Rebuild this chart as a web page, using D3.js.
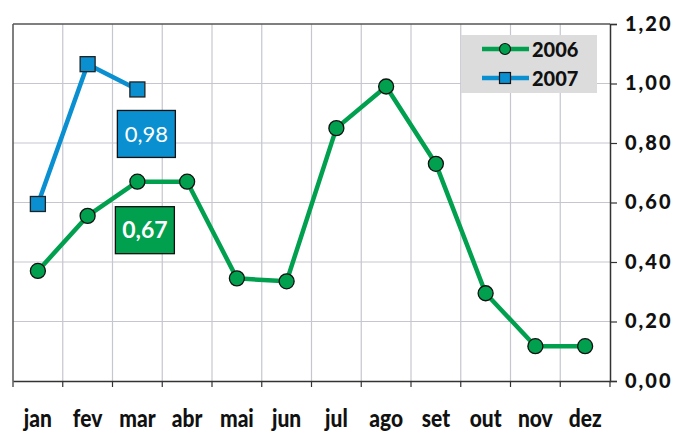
<!DOCTYPE html>
<html><head><meta charset="utf-8">
<script src="https://cdn.jsdelivr.net/npm/d3@7"></script>
<style>body{margin:0;background:#fff}svg{display:block}text{font-family:Lato,"Liberation Sans",sans-serif}</style>
</head><body><svg id="c" width="678" height="431"></svg>
<script>
const months = ["jan","fev","mar","abr","mai","jun","jul","ago","set","out","nov","dez"];
const values2006 = [0.37,0.555,0.67,0.67,0.345,0.335,0.85,0.99,0.73,0.295,0.117,0.117];
const values2007 = [0.595,1.065,0.98];
const yTicks = [0,0.2,0.4,0.6,0.8,1.0,1.2];
const seriesNames = ["2006","2007"];
const callouts = [{series:"2007",value:0.98,label:"0,98"},{series:"2006",value:0.67,label:"0,67"}];

const svg = d3.select("#c");
const L=13, R=610, T=24, B=381;
const x = d3.scaleBand().domain(months).range([L,R]);
const y = d3.scaleLinear().domain([0,1.2]).range([B,T]);
const fmt = d => d3.format(".2f")(d).replace(".",",");
const green="#00a04f", blue="#0a8fd0";

// grid
svg.append("g").selectAll("line").data(yTicks.slice(1,-1)).join("line")
 .attr("x1",L).attr("x2",R).attr("y1",d=>y(d)).attr("y2",d=>y(d)).attr("stroke","#c6c6cf").attr("stroke-width",1.2);
svg.append("g").selectAll("line").data(months.slice(1)).join("line")
 .attr("x1",d=>x(d)).attr("x2",d=>x(d)).attr("y1",T).attr("y2",B).attr("stroke","#c6c6cf").attr("stroke-width",1.2);
// border
svg.append("line").attr("x1",L).attr("x2",R).attr("y1",T).attr("y2",T).attr("stroke","#555").attr("stroke-width",1.5);
svg.append("line").attr("x1",L).attr("x2",L).attr("y1",T).attr("y2",B).attr("stroke","#555").attr("stroke-width",1.5);

// right axis
const ya = svg.append("g").attr("transform",`translate(${R},0)`)
 .call(d3.axisRight(y).tickValues(yTicks).tickFormat(fmt).tickSize(7).tickPadding(8));
ya.select(".domain").attr("stroke","#333").attr("stroke-width",1.5);
ya.selectAll(".tick line").attr("stroke","#333").attr("stroke-width",1.2);
ya.selectAll("text").attr("font-size",20).attr("font-weight",900).attr("fill","#111").attr("letter-spacing",2);

// bottom axis
const xa = svg.append("g").attr("transform",`translate(0,${B})`)
 .call(d3.axisBottom(x).tickSize(0).tickPadding(0));
xa.select(".domain").attr("stroke","#333").attr("stroke-width",1.5);
xa.selectAll("text").attr("y",46).attr("dy",0).attr("font-size",25).attr("font-weight",900).attr("fill","#111")
 .attr("transform","scale(0.84,1)");
svg.append("g").selectAll("line").data(months.concat(["end"])).join("line")
 .attr("x1",(d,i)=>L+i*x.step()).attr("x2",(d,i)=>L+i*x.step()).attr("y1",B).attr("y2",B+6).attr("stroke","#333").attr("stroke-width",1.2);

const cx = d => x(d)+x.bandwidth()/2;
const line = d3.line().x((d,i)=>cx(months[i])).y(d=>y(d));

svg.append("path").datum(values2006).attr("d",line).attr("fill","none").attr("stroke",green).attr("stroke-width",4.5).attr("stroke-linejoin","round");
svg.append("path").datum(values2007).attr("d",line).attr("fill","none").attr("stroke",blue).attr("stroke-width",4.5).attr("stroke-linejoin","round");

svg.append("g").selectAll("circle").data(values2006).join("circle")
 .attr("cx",(d,i)=>cx(months[i])).attr("cy",d=>y(d)).attr("r",7.5).attr("fill",green).attr("stroke","#111").attr("stroke-width",1.3);
svg.append("g").selectAll("rect").data(values2007).join("rect")
 .attr("x",(d,i)=>cx(months[i])-7.5).attr("y",d=>y(d)-7.5).attr("width",15).attr("height",15).attr("fill",blue).attr("stroke","#222").attr("stroke-width",1.3);

// callouts
const cb = [{dx:-20,dy:21,w:58,h:47,col:blue,fw:400,fs:22},{dx:-22,dy:25,w:59,h:47,col:green,fw:700,fs:23}];
callouts.forEach((c,k)=>{
  const px = cx(months[2]), py = y(c.value);
  const b = cb[k];
  svg.append("rect").attr("x",px+b.dx).attr("y",py+b.dy).attr("width",b.w).attr("height",b.h).attr("fill",b.col).attr("stroke","#111").attr("stroke-width",1.3);
  svg.append("text").attr("x",px+b.dx+b.w/2).attr("y",py+b.dy+b.h/2+8).attr("text-anchor","middle")
   .attr("fill","#fff").attr("font-size",b.fs).attr("font-weight",b.fw).text(c.label);
});

// legend
const lg = svg.append("g");
lg.append("rect").attr("x",461).attr("y",35).attr("width",136).attr("height",58).attr("fill","#dcdcdc");
seriesNames.forEach((s,i)=>{
  const yy = 49+i*29, col = i? blue:green;
  lg.append("line").attr("x1",482).attr("x2",529).attr("y1",yy).attr("y2",yy).attr("stroke",col).attr("stroke-width",4.5);
  if(i===0) lg.append("circle").attr("cx",505).attr("cy",yy).attr("r",5.5).attr("fill",col).attr("stroke","#111").attr("stroke-width",1.2);
  else lg.append("rect").attr("x",499.5).attr("y",yy-5.5).attr("width",11).attr("height",11).attr("fill",col).attr("stroke","#111").attr("stroke-width",1.2);
  lg.append("text").attr("x",532).attr("y",yy+7.5).attr("font-size",20).attr("font-weight",900).attr("fill","#111").text(s);
});
</script></body></html>
